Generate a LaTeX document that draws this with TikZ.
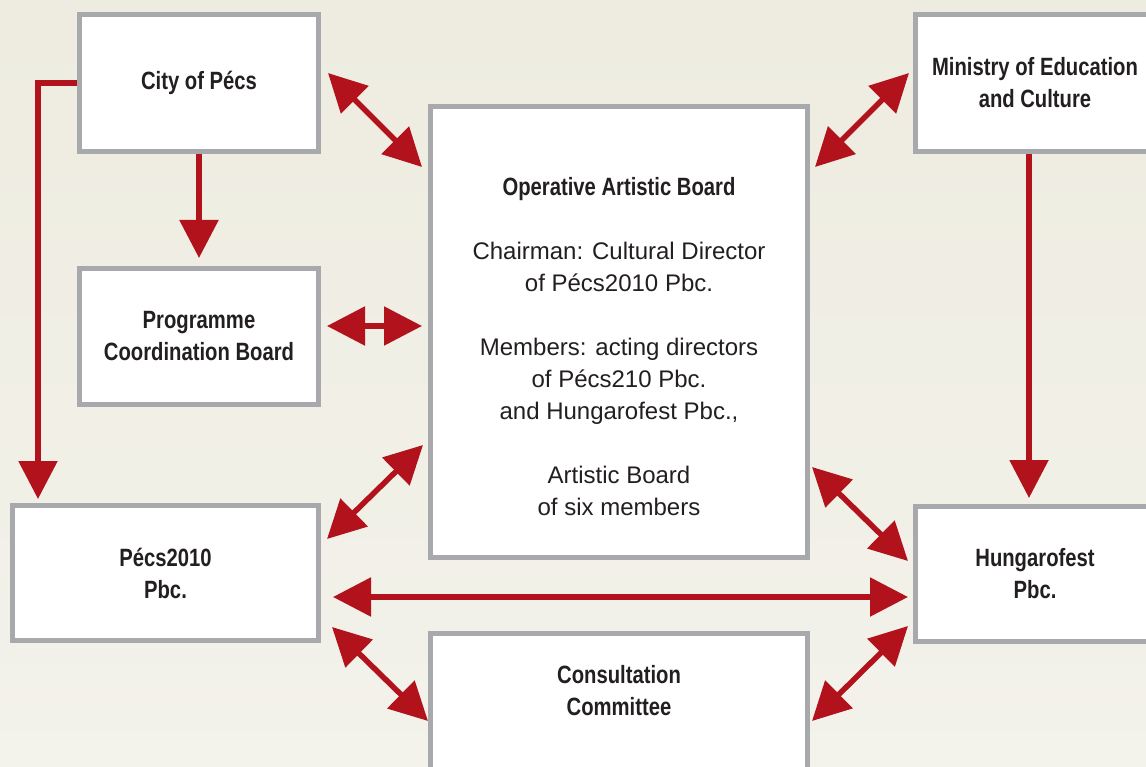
\documentclass[tikz,border=0pt]{standalone}
\usepackage{fontspec}
\setmainfont{Liberation Sans}[BoldFeatures={FakeStretch=0.81}]
\usetikzlibrary{arrows.meta,calc}
\definecolor{arrred}{HTML}{B1121B}
\definecolor{boxgray}{HTML}{A8A9AD}
\definecolor{txt}{HTML}{231F20}
\definecolor{bgtop}{HTML}{EEECE0}
\definecolor{bgbot}{HTML}{F3F2EB}
\newcommand{\bftext}{\bfseries\fontsize{25}{32}\selectfont}
\begin{document}
\begin{tikzpicture}[x=1pt,y=-1pt,
  box/.style={draw=boxgray, line width=5pt, fill=white, inner sep=0pt, outer sep=0pt,
    align=center, text=txt, font=\bftext},
  plain/.style={text=txt, align=center, inner sep=0pt, font=\fontsize{24}{32}\selectfont},
  tip/.tip={Triangle[length=38pt,width=38pt]},
  link/.style={draw=arrred, line width=5.5pt, -tip},
  dlink/.style={draw=arrred, line width=5.5pt, tip-tip}]
\useasboundingbox (0,0) rectangle (1146,767);
\clip (0,0) rectangle (1146,767);
\shade[top color=bgtop, bottom color=bgbot] (0,0) rectangle (1146,767);

% boxes
\node[box, minimum width=239pt, minimum height=137pt] (city) at (199,83) {City of Pécs};
\node[box, minimum width=239pt, minimum height=136pt] (prog) at (199,336.5) {Programme\\Coordination Board};
\node[box, minimum width=377pt, minimum height=451pt] (op) at (619,332) {};
\node[box, minimum width=239pt, minimum height=137pt] (min) at (1035,83) {Ministry of Education\\and Culture};
\node[box, minimum width=306pt, minimum height=135pt] (pecs) at (165.5,573) {Pécs2010\\Pbc.};
\node[box, minimum width=239pt, minimum height=135pt] (hung) at (1035,574) {Hungarofest\\Pbc.};
\node[box, minimum width=377pt, minimum height=164pt] (cons) at (619,715.5) {};

\node[plain] (optext) at (619,347) {{\bftext Operative Artistic Board}\\[32pt]
  Chairman: Cultural Director\\of Pécs2010 Pbc.\\[32pt]
  Members: acting directors\\of Pécs210 Pbc.\\and Hungarofest Pbc.,\\[32pt]
  Artistic Board\\of six members};
\node[plain, font=\bftext] (constext) at (619,690.5) {Consultation\\Committee};

% connectors
\coordinate (lt) at ($(pecs.north west)+(25.5,-6.5)$);
\draw[link, shorten <=2.5pt] (city.south) -- ($(prog.north)+(0,-10.5)$);
\draw[link, shorten <=2.5pt] (city.west) -| (lt);
\draw[dlink] ($(city.east)+(9.5,-10)$) -- ($(op.north west)+(-8.5,60.5)$);
\draw[dlink] ($(min.west)+(-6.5,-10)$) -- ($(op.north east)+(7.5,60.5)$);
\draw[dlink] ($(prog.east)+(8.5,-10.5)$) -- ($(op.west)+(-8.5,-6)$);
\draw[link, shorten <=2.5pt] ($(min.south)+(-6,0)$) -- ($(hung.north)+(-6,-8.5)$);
\draw[dlink] ($(pecs.north east)+(8.5,33.5)$) -- ($(op.south west)+(-7.5,-112.5)$);
\draw[dlink] ($(op.south east)+(4.5,-90.5)$) -- ($(hung.north west)+(-7.5,54.5)$);
\draw[dlink] ($(pecs.east)+(14.5,24)$) -- ($(hung.west)+(-7.5,23)$);
\draw[dlink] ($(pecs.south east)+(13.5,-13.5)$) -- ($(cons.north west)+(-2.5,87.5)$);
\draw[dlink] ($(hung.south west)+(-7.5,-15.5)$) -- ($(cons.north east)+(4.5,87.5)$);
\end{tikzpicture}
\end{document}
